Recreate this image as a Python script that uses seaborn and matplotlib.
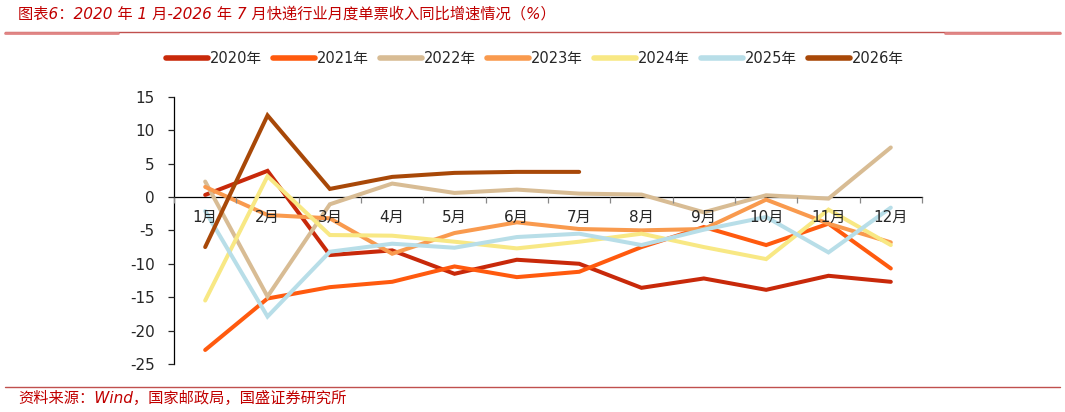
import numpy as np
import pandas as pd
import seaborn as sns
import matplotlib.pyplot as plt
from matplotlib.lines import Line2D
from matplotlib.ticker import FixedLocator

months = ['1月', '2月', '3月', '4月', '5月', '6月', '7月', '8月', '9月', '10月', '11月', '12月']
years = ['2020年', '2021年', '2022年', '2023年', '2024年', '2025年', '2026年']

y2020 = [0.3, 3.9, -8.7, -8.0, -11.5, -9.4, -10.0, -13.6, -12.2, -13.9, -11.8, -12.7]
y2021 = [-22.9, -15.2, -13.5, -12.7, -10.4, -12.0, -11.2, -7.5, -4.5, -7.2, -4.0, -10.7]
y2022 = [2.3, -14.9, -1.1, 2.0, 0.6, 1.1, 0.5, 0.35, -2.3, 0.25, -0.25, 7.4]
y2023 = [1.5, -2.7, -3.2, -8.5, -5.4, -3.8, -4.8, -5.0, -4.8, -0.4, -4.0, -6.8]
y2024 = [-15.5, 3.1, -5.7, -5.8, -6.7, -7.7, -6.7, -5.5, -7.5, -9.3, -1.9, -7.2]
y2025 = [-2.1, -17.9, -8.2, -7.0, -7.6, -6.0, -5.5, -7.2, -4.9, -3.0, -8.3, -1.6]
y2026 = [-7.5, 12.2, 1.2, 3.0, 3.6, 3.75, 3.75]

colors = ['#C8290A', '#FF5A0E', '#D8BC94', '#F99A4E', '#F8E884', '#B8DEE8', '#A84808']

series = [y2020, y2021, y2022, y2023, y2024, y2025, y2026]
rows = []
for yr, vals in zip(years, series):
    for m, v in zip(months, vals):
        rows.append({'month': m, 'year': yr, 'value': v})
df = pd.DataFrame(rows)

sns.set_style('white')
plt.rcParams['font.family'] = ['DejaVu Sans', 'Noto Sans CJK SC']
plt.rcParams['axes.unicode_minus'] = False

fig = plt.figure(figsize=(10.65, 4.12), dpi=100)
ax = fig.add_axes([0.1634, 0.1165, 0.7023, 0.6488])

sns.lineplot(data=df, x='month', y='value', hue='year', palette=colors,
             linewidth=2.9, sort=False, ax=ax, legend=False)
for ln in ax.get_lines():
    ln.set_solid_capstyle('round')
    ln.set_solid_joinstyle('miter')

ax.set_axisbelow(False)
ax.set_xlim(-0.5, 11.5)
ax.set_ylim(-25, 15)
ax.set_yticks(np.arange(-25, 16, 5))
ax.set_xlabel('')
ax.set_ylabel('')

for s in ['top', 'right']:
    ax.spines[s].set_visible(False)
ax.spines['bottom'].set_position(('data', 0))
ax.spines['bottom'].set_color('#000000')
ax.spines['bottom'].set_linewidth(0.9)
ax.spines['left'].set_color('#000000')
ax.spines['left'].set_linewidth(0.9)
ax.spines['bottom'].set_zorder(0.5)

ax.xaxis.set_major_locator(FixedLocator(np.arange(-0.5, 12, 1)))
ax.xaxis.set_minor_locator(FixedLocator(np.arange(0, 12, 1)))
ax.set_xticklabels([], minor=False)
ax.set_xticklabels(months, minor=True, fontsize=11, family=['DejaVu Sans', 'Noto Sans CJK SC'])
ax.tick_params(axis='x', which='major', direction='out', length=4, width=0.9, color='#888888', bottom=True)
ax.tick_params(axis='x', which='minor', length=0, pad=9, bottom=True)
ax.tick_params(axis='y', direction='out', length=4, width=0.9, left=True, pad=10, labelsize=11)

handles = [Line2D([0], [0], color=c, lw=4, solid_capstyle='round') for c in colors]
fig.legend(handles, years, loc='center', bbox_to_anchor=(0.502, 0.858), ncol=7,
           frameon=False, handlelength=2.9, handletextpad=0.12,
           columnspacing=0.75, prop={'family': ['DejaVu Sans', 'Noto Sans CJK SC'], 'size': 10.5})

red = '#C0504D'
fig.text(0.017, 0.965, '图表6：2020 年 1 月-2026 年 7 月快递行业月度单票收入同比增速情况（%）',
         color='#C00000', fontsize=11, style='italic', va='center', ha='left',
         family=['DejaVu Sans', 'Noto Sans CJK SC'])
fig.add_artist(Line2D([0.005, 0.995], [0.922, 0.922], color=red, lw=1.0, transform=fig.transFigure))
fig.add_artist(Line2D([0.005, 0.111], [0.920, 0.920], color='#E08585', lw=2.0, transform=fig.transFigure))
fig.add_artist(Line2D([0.887, 0.995], [0.920, 0.920], color='#E08585', lw=2.0, transform=fig.transFigure))

fig.add_artist(Line2D([0.005, 0.995], [0.061, 0.061], color=red, lw=1.0, transform=fig.transFigure))
fig.text(0.017, 0.032, '资料来源：Wind，国家邮政局，国盛证券研究所',
         color='#C00000', fontsize=11, style='italic', va='center', ha='left',
         family=['DejaVu Sans', 'Noto Sans CJK SC'])

fig.savefig('out.png', dpi=100)
